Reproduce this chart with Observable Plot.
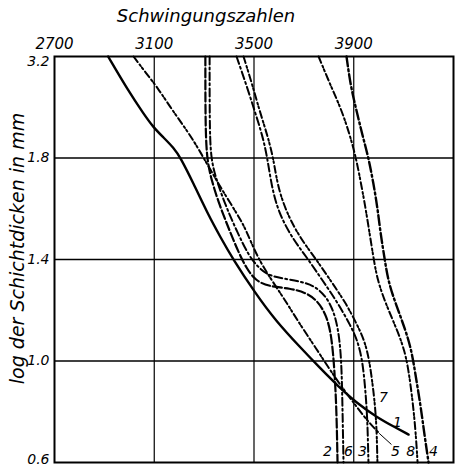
<!DOCTYPE html>
<html><head><meta charset="utf-8">
<script src="https://cdn.jsdelivr.net/npm/d3@7"></script>
<script src="https://cdn.jsdelivr.net/npm/@observablehq/plot@0.6"></script>
<style>body{margin:0;background:#fff} svg{overflow:visible}</style>
</head><body><div id="chart"></div>
<script>
const xTicks = [2700, 3100, 3500, 3900];
const yTicks = [0.6, 1.0, 1.4, 1.8, 2.2];
const yTickLabels = ["0.6", "1.0", "1.4", "1.8", "3.2"];
const gridX = [3100, 3500, 3900];
const gridY = [1.0, 1.4, 1.8];

const curve1 = [[2915,2.2],[2995,2.066],[3057,1.975],[3097,1.92],[3137,1.881],[3177,1.841],[3205,1.802],[3257,1.7],[3314,1.581],[3366,1.487],[3414,1.404],[3506,1.266],[3586,1.16],[3686,1.053],[3767,0.97],[3835,0.903],[3915,0.832],[3995,0.777],[4067,0.738],[4120,0.71]];
const curve2 = [[3305,2.2],[3305,1.948],[3310,1.798],[3330,1.711],[3362,1.613],[3402,1.514],[3438,1.428],[3470,1.365],[3506,1.317],[3558,1.294],[3646,1.286],[3707,1.27],[3755,1.238],[3791,1.179],[3811,1.1],[3823,0.963],[3831,0.805],[3835,0.6]];
const curve3 = [[3430,2.2],[3470,2.086],[3502,1.987],[3534,1.889],[3554,1.798],[3570,1.692],[3598,1.585],[3654,1.483],[3715,1.404],[3775,1.317],[3835,1.231],[3887,1.14],[3915,1.081],[3935,1.002],[3947,0.884],[3955,0.766],[3959,0.6]];
const curve4 = [[3871,2.2],[3887,2.086],[3911,1.987],[3935,1.889],[3959,1.802],[3979,1.7],[3995,1.605],[4007,1.506],[4023,1.408],[4039,1.309],[4071,1.219],[4108,1.12],[4132,1.041],[4148,0.943],[4168,0.825],[4184,0.706],[4200,0.6]];
const curve5 = [[3017,2.2],[3065,2.137],[3113,2.078],[3165,1.999],[3217,1.928],[3265,1.857],[3297,1.802],[3334,1.739],[3366,1.684],[3434,1.577],[3466,1.522],[3510,1.416],[3566,1.325],[3626,1.238],[3674,1.16],[3747,1.053],[3827,0.931],[3887,0.852],[3947,0.773],[3999,0.718]];
const curve6 = [[3322,2.2],[3322,1.948],[3326,1.798],[3350,1.711],[3386,1.613],[3430,1.514],[3478,1.416],[3518,1.368],[3558,1.337],[3618,1.325],[3686,1.313],[3739,1.298],[3787,1.258],[3819,1.199],[3839,1.12],[3851,1.002],[3855,0.805],[3859,0.6]];
const curve7 = [[3458,2.2],[3494,2.086],[3522,1.987],[3554,1.889],[3578,1.798],[3594,1.692],[3630,1.585],[3686,1.483],[3747,1.404],[3807,1.317],[3867,1.231],[3915,1.14],[3943,1.081],[3963,1.002],[3979,0.884],[3991,0.766],[3995,0.6]];
const curve8 = [[3759,2.2],[3807,2.086],[3847,1.999],[3879,1.908],[3907,1.81],[3927,1.711],[3947,1.605],[3963,1.506],[3979,1.408],[3995,1.317],[4031,1.219],[4075,1.12],[4104,1.041],[4120,0.963],[4136,0.844],[4148,0.726],[4156,0.6]];

const labelNames = ["2", "6", "3", "5", "8", "4", "7", "1"];
const labelX = [3795, 3879, 3935, 4067, 4128, 4220, 4019, 4075];
const labelY = [0.645, 0.645, 0.645, 0.645, 0.645, 0.645, 0.856, 0.758];
const leader5 = [[4003, 0.714], [4050, 0.672]];

const labels = labelNames.map((t, i) => ({t, x: labelX[i], y: labelY[i]}));
const yLab = yTicks.map((v, i) => ({v, t: yTickLabels[i]}));
const xy = {x: d => d[0], y: d => d[1]};
const lineOpts = (dash, w) => ({...xy, curve: "basis", stroke: "#000", strokeWidth: w, strokeDasharray: dash});
const tickText = {frameAnchor: "left", textAnchor: "end", dx: -5, fontSize: 14, fontStyle: "italic"};

const chart = Plot.plot({
  width: 455,
  height: 466,
  marginLeft: 54,
  marginRight: 2,
  marginTop: 56,
  marginBottom: 4,
  style: {fontFamily: "DejaVu Sans", fontStyle: "italic", fontSize: "15px", color: "#000", background: "#fff", overflow: "visible"},
  x: {domain: [2700, 4300], axis: "top", ticks: xTicks, tickSize: 0, tickPadding: 8, tickFormat: d => String(d), label: null},
  y: {domain: [0.6, 2.2], axis: null},
  marks: [
    Plot.ruleX(gridX, {stroke: "#000", strokeWidth: 1.2}),
    Plot.ruleY(gridY, {stroke: "#000", strokeWidth: 1.6}),
    Plot.frame({stroke: "#000", strokeWidth: 2}),
    Plot.line(curve1, lineOpts(null, 2.4)),
    Plot.line(curve2, lineOpts("9,3", 2.2)),
    Plot.line(curve3, lineOpts("8,3,2,3", 2)),
    Plot.line(curve4, lineOpts("10,3,2,3", 2.4)),
    Plot.line(curve5, lineOpts("7,3,2,2,2,3", 2)),
    Plot.line(curve6, lineOpts("8,3,2,3", 2)),
    Plot.line(curve7, lineOpts("7,3,2,2,2,3", 2)),
    Plot.line(curve8, lineOpts("7,3,2,2,2,3", 2)),
    Plot.line(leader5, {...xy, stroke: "#000", strokeWidth: 1}),
    Plot.text(yLab.filter(d => d.v > 0.6 && d.v < 2.2), {...tickText, y: "v", text: "t"}),
    Plot.text(yLab.filter(d => d.v === 2.2), {...tickText, y: "v", text: "t", dy: 5}),
    Plot.text(yLab.filter(d => d.v === 0.6), {...tickText, y: "v", text: "t", dy: -3}),
    Plot.text(labels, {x: "x", y: "y", text: "t", fontSize: 14, fontStyle: "italic"}),
    Plot.text(["Schwingungszahlen"], {frameAnchor: "top", dx: -48, dy: -47, fontSize: 18, fontStyle: "italic"}),
    Plot.text(["log der Schichtdicken in mm"], {frameAnchor: "left", textAnchor: "middle", rotate: -90, dx: -37, dy: -11, fontSize: 19, fontStyle: "italic"})
  ]
});
document.getElementById("chart").append(chart);
</script>
</body></html>
